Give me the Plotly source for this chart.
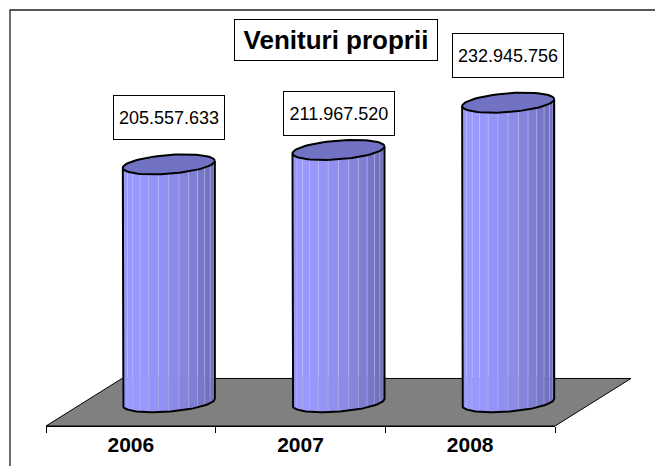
import numpy as np
import plotly.graph_objects as go

# ---- data ----
YEARS = ["2006", "2007", "2008"]
VALUES = [205557633, 211967520, 232945756]
TITLE = "Venituri proprii"

# ---- geometry / style constants ----
W, H = 655, 466
PLOT_L, PLOT_R, PLOT_T, PLOT_B = 46, 631, 10, 430
CAT_PX = (555 - 46) / 3.0          # width of one category on the floor front edge
DEPTH_DX, DEPTH_DY = 76, 48        # perspective depth of the floor
BASE = 100e6                       # value axis minimum
PX_PER_VAL = 2.275e-6              # pixels per unit value
BASE_PX = PLOT_B - DEPTH_DY / 2    # pixel row of cylinder bottoms
CYL_W_PX = 92
ELL_RY_PX = 9.5
SKEW_PX = 3.5
LABEL_GAP_PX = [24, 14, 25]
N_FACETS = 14

FONT = "Liberation Sans, Arial, sans-serif"
LIGHT = np.array([153, 153, 255])
DARK = np.array([112, 112, 188])
TOP_COLOR = "rgb(114,114,196)"
FLOOR_COLOR = "#808080"

plot_w = PLOT_R - PLOT_L
plot_h = PLOT_B - PLOT_T
y_min = BASE - (PLOT_B - BASE_PX) / PX_PER_VAL
y_max = BASE + (BASE_PX - PLOT_T) / PX_PER_VAL
x_min = -0.5
x_max = -0.5 + plot_w / CAT_PX

rx = (CYL_W_PX / 2) / CAT_PX
ry = ELL_RY_PX / PX_PER_VAL
skew = SKEW_PX / PX_PER_VAL
shift = (DEPTH_DX / 2) / CAT_PX

fig = go.Figure()

# floor
fy_front = y_min
fy_back = y_min + DEPTH_DY / PX_PER_VAL
fdx = DEPTH_DX / CAT_PX
fig.add_trace(go.Scatter(
    x=[-0.5, 2.5, 2.5 + fdx, -0.5 + fdx, -0.5],
    y=[fy_front, fy_front, fy_back, fy_back, fy_front],
    mode="lines", fill="toself", fillcolor=FLOOR_COLOR,
    line=dict(color="#000000", width=1), hoverinfo="skip", showlegend=False))


def shade(theta):
    # brightness peaks left of centre, darker toward the right
    t = np.cos(theta - 0.78 * np.pi)
    k = np.clip((t + 0.35) / 1.35, 0, 1)
    c = DARK + (LIGHT - DARK) * k
    return "rgb(%d,%d,%d)" % tuple(c.astype(int))


for i, v in enumerate(VALUES):
    cx = i + shift
    thetas = np.linspace(np.pi, 0, N_FACETS + 1)
    # facets of the cylinder body
    for a, b in zip(thetas[:-1], thetas[1:]):
        xa, xb = cx + rx * np.cos(a), cx + rx * np.cos(b)
        da = -ry * np.sin(a) + skew * np.cos(a)
        db = -ry * np.sin(b) + skew * np.cos(b)
        tm = 0.5 * (a + b)
        fig.add_trace(go.Scatter(
            x=[xa, xb, xb, xa, xa],
            y=[v + da, v + db, BASE + db, BASE + da, v + da],
            mode="lines", fill="toself", fillcolor=shade(tm),
            line=dict(color="rgba(200,200,255,0.5)", width=0.6),
            hoverinfo="skip", showlegend=False))
    # outline of body (sides + front bottom curve)
    tt = np.linspace(np.pi, 0, 60)
    ox = np.concatenate([[cx - rx], cx + rx * np.cos(tt), [cx + rx]])
    oy = np.concatenate([[v - skew], BASE - ry * np.sin(tt) + skew * np.cos(tt), [v + skew]])
    fig.add_trace(go.Scatter(x=ox, y=oy, mode="lines",
                             line=dict(color="#000000", width=2),
                             hoverinfo="skip", showlegend=False))
    # top ellipse
    te = np.linspace(0, 2 * np.pi, 80)
    fig.add_trace(go.Scatter(
        x=cx + rx * np.cos(te), y=v + ry * np.sin(te) + skew * np.cos(te),
        mode="lines", fill="toself", fillcolor=TOP_COLOR,
        line=dict(color="#000000", width=2), hoverinfo="skip", showlegend=False))
    # value label
    fig.add_annotation(
        x=cx, y=v, xref="x", yref="y", yanchor="bottom",
        yshift=LABEL_GAP_PX[i], showarrow=False,
        text=f"{v:,}".replace(",", "."),
        font=dict(family=FONT, size=18, color="#000000"),
        bgcolor="#ffffff", bordercolor="#000000", borderwidth=1,
        borderpad=0, width=110, height=43)

# invisible trace to carry the category axis
fig.add_trace(go.Scatter(x=YEARS, y=[None] * len(YEARS), xaxis="x2", yaxis="y",
                         mode="markers", marker=dict(opacity=0),
                         hoverinfo="skip", showlegend=False))

# title box
fig.add_annotation(
    x=(336 - PLOT_L) / plot_w, y=(PLOT_B - 40) / plot_h, xref="paper", yref="paper",
    xanchor="center", yanchor="middle", showarrow=False,
    text="<b>" + TITLE + "</b>",
    font=dict(family=FONT, size=26, color="#000000"),
    bgcolor="#ffffff", bordercolor="#000000", borderwidth=1,
    borderpad=0, width=202, height=40)

# outer frame
fig.add_shape(type="rect", xref="paper", yref="paper",
              x0=(10 - PLOT_L) / plot_w, x1=(W + 20 - PLOT_L) / plot_w,
              y0=-0.5, y1=(PLOT_B - 10) / plot_h,
              line=dict(color="#222222", width=1.3), layer="below")

fig.update_layout(
    width=W, height=H,
    margin=dict(l=PLOT_L, r=W - PLOT_R, t=PLOT_T, b=H - PLOT_B),
    paper_bgcolor="#ffffff", plot_bgcolor="rgba(0,0,0,0)",
    showlegend=False,
    xaxis=dict(range=[x_min, x_max], visible=False, fixedrange=True),
    yaxis=dict(range=[y_min, y_max], visible=False, fixedrange=True),
    xaxis2=dict(type="category", categoryarray=YEARS, range=[-0.5, 2.5],
                domain=[0, 3 * CAT_PX / plot_w], anchor="y", side="bottom",
                tickson="boundaries", ticks="outside", ticklen=6,
                tickcolor="#000000", tickwidth=1,
                showline=True, linecolor="#000000", linewidth=1,
                showgrid=False, zeroline=False,
                tickfont=dict(family=FONT, size=21, color="#000000"),
                tickprefix="<b>", ticksuffix="</b>", fixedrange=True),
)

fig.write_html(
    "out.html",
    config={"displayModeBar": False},
    post_script="document.body.style.margin='0';document.body.style.overflow='hidden';",
)
